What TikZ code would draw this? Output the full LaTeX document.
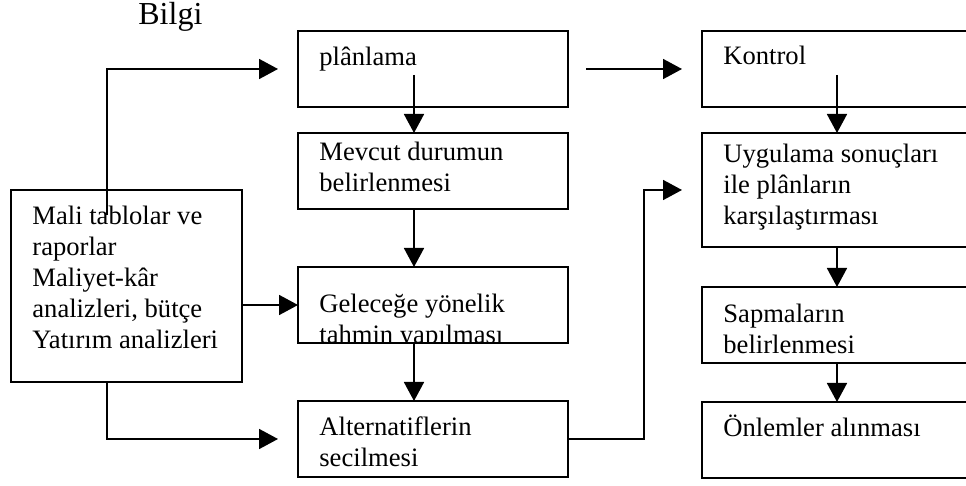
\documentclass[tikz,border=0pt]{standalone}
\usepackage{fontspec}
\setmainfont{Liberation Serif}
\usetikzlibrary{positioning,arrows.meta}

\begin{document}
\begin{tikzpicture}[
    node distance=13pt,
    every node/.style={font=\fontsize{13.3pt}{15.5pt}\selectfont},
    box/.style={draw, line width=0.85pt, inner sep=0pt, outer sep=0pt, minimum width=135pt, minimum height=38pt},
    rbox/.style={box, minimum width=145pt},
    txt/.style={anchor=base west, inner sep=0pt, align=left},
    arr/.style={line width=0.85pt, -{Triangle[length=9.5pt, width=10pt]}}
]
\useasboundingbox (0,0) rectangle (483pt,-243pt);
\clip (0,0) rectangle (483pt,-243pt);

% 左侧节点
\node[box, minimum width=115.5pt, minimum height=96pt, anchor=north west] (mali) at (5.5pt,-95pt) {};
\node[txt] (mali-t) at ([xshift=10.5pt, yshift=-79.5pt]mali.north west) {Mali tablolar ve\\raporlar\\Maliyet-kâr\\analizleri, bütçe\\Yatırım analizleri};
\node[font=\fontsize{16pt}{19pt}\selectfont, anchor=base west, inner sep=0pt] (bilgi) at (69pt,-12.5pt) {Bilgi};

% 中间节点
\node[box, anchor=north west] (plan) at (149pt,-15.5pt) {};
\node[box, below=of plan] (mevcut) {};
\node[box, below=29pt of mevcut] (gelecek) {};
\node[box, below=29pt of gelecek] (secim) {};

\node[txt] (plan-t) at ([xshift=10.5pt, yshift=-17.5pt]plan.north west) {plânlama};
\node[txt] (mevcut-t) at ([xshift=10.5pt, yshift=-29.5pt]mevcut.north west) {Mevcut durumun\\belirlenmesi};
\begin{scope}
\clip (gelecek.north west) rectangle (gelecek.south east);
\node[txt] (gelecek-t) at ([xshift=10.5pt, yshift=-38.5pt]gelecek.north west) {Geleceğe yönelik\\tahmin yapılması};
\end{scope}
\node[txt] (secim-t) at ([xshift=10.5pt, yshift=-33pt]secim.north west) {Alternatiflerin\\secilmesi};

% 右侧节点
\node[rbox, right=67pt of plan] (kontrol) {};
\node[rbox, minimum height=57pt, below=of kontrol] (uygulama) {};
\node[rbox, below=20pt of uygulama] (sapma) {};
\node[rbox, below=19.5pt of sapma] (onlem) {};

\node[txt] (kontrol-t) at ([xshift=10.5pt, yshift=-17pt]kontrol.north west) {Kontrol};
\node[txt] (uygulama-t) at ([xshift=10.5pt, yshift=-46pt]uygulama.north west) {Uygulama sonuçları\\ile plânların\\karşılaştırması};
\node[txt] (sapma-t) at ([xshift=10.5pt, yshift=-33.5pt]sapma.north west) {Sapmaların\\belirlenmesi};
\node[txt] (onlem-t) at ([xshift=10.5pt, yshift=-17.5pt]onlem.north west) {Önlemler alınması};

% 连接线
\draw[arr] ([xshift=-9.75pt, yshift=-12.5pt]mali.north) |- ([xshift=-10pt]plan.west);
\draw[arr] (mali.east |- gelecek.west) -- (gelecek.west);
\draw[arr] ([xshift=-9.75pt]mali.south) |- ([xshift=-10pt]secim.west);

\draw[arr] ([xshift=-9.5pt, yshift=-3pt]plan.center) -- ([xshift=-9.5pt]mevcut.north);
\draw[arr] ([xshift=-9.5pt]mevcut.south) -- ([xshift=-9.5pt]gelecek.north);
\draw[arr] ([xshift=-9.5pt]gelecek.south) -- ([xshift=-9.5pt]secim.north);

\draw[arr] ([xshift=9pt]plan.east) -- ([xshift=-10pt]kontrol.west);
\draw[arr] (secim.east) -| ([xshift=-29pt]uygulama.west) -- ([xshift=-10pt]uygulama.west);

\draw[arr] ([xshift=-5pt, yshift=-3pt]kontrol.center) -- ([xshift=-5pt]uygulama.north);
\draw[arr] ([xshift=-5pt]uygulama.south) -- ([xshift=-5pt]sapma.north);
\draw[arr] ([xshift=-5pt]sapma.south) -- ([xshift=-5pt]onlem.north);

\end{tikzpicture}
\end{document}
